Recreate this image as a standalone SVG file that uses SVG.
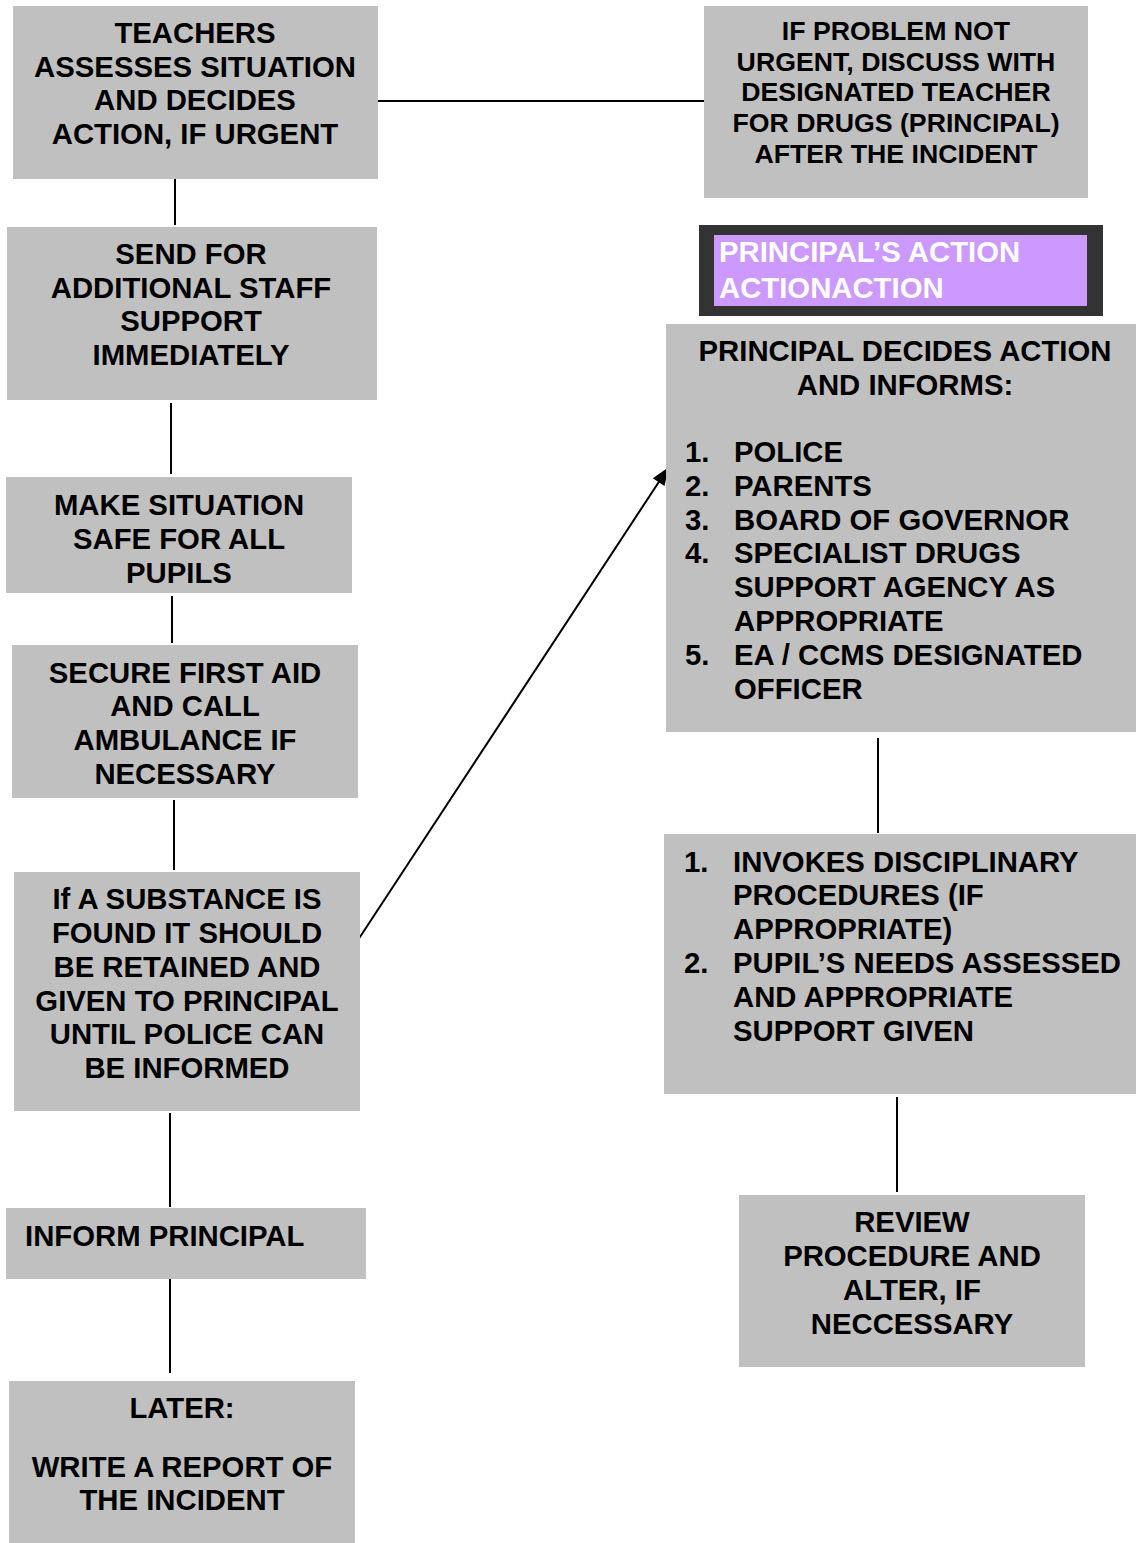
<svg xmlns="http://www.w3.org/2000/svg" width="1136" height="1543" viewBox="0 0 1136 1543">
<style>
.box{fill:#C0C0C0}
.t{font-family:"Liberation Sans",Arial,sans-serif;font-weight:bold;font-size:29.3px;fill:#000}
.s{font-size:26.7px}
.c{text-anchor:middle}
.w{fill:#FFFFFF}
.ln{stroke:#000;stroke-width:2;fill:none}
</style>
<defs>
<marker id="ah" markerWidth="18" markerHeight="14" refX="17" refY="7" orient="auto" markerUnits="userSpaceOnUse" viewBox="0 0 18 14" overflow="visible">
<path d="M0,0 L18,7 L0,14 z" fill="#000"/>
</marker>
</defs>
<rect width="1136" height="1543" fill="#FFFFFF"/>
<g id="connectors">
<line class="ln" x1="378" y1="101" x2="704" y2="101"/>
<line class="ln" x1="175" y1="179" x2="175" y2="225"/>
<line class="ln" x1="171" y1="403" x2="171" y2="474"/>
<line class="ln" x1="172" y1="596" x2="172" y2="643"/>
<line class="ln" x1="174" y1="800" x2="174" y2="870"/>
<line class="ln" x1="170" y1="1113" x2="170" y2="1207"/>
<line class="ln" x1="170" y1="1279" x2="170" y2="1373"/>
<line class="ln" x1="878" y1="738" x2="878" y2="833"/>
<line class="ln" x1="897" y1="1097" x2="897" y2="1192"/>
<line class="ln" x1="358" y1="940" x2="668" y2="468" stroke-width="2.4" marker-end="url(#ah)"/>
</g>
<g id="n1">
<rect class="box" x="13" y="6" width="365" height="173"/>
<text class="t c" x="195" y="42.5">TEACHERS</text>
<text class="t c" x="195" y="76.5">ASSESSES SITUATION</text>
<text class="t c" x="195" y="109.5">AND DECIDES</text>
<text class="t c" x="195" y="143.5">ACTION, IF URGENT</text>
</g>
<g id="n2">
<rect class="box" x="704" y="6" width="384" height="192"/>
<text class="t s c" x="896" y="40">IF PROBLEM NOT</text>
<text class="t s c" x="896" y="71">URGENT, DISCUSS WITH</text>
<text class="t s c" x="896" y="101">DESIGNATED TEACHER</text>
<text class="t s c" x="896" y="132">FOR DRUGS (PRINCIPAL)</text>
<text class="t s c" x="896" y="163">AFTER THE INCIDENT</text>
</g>
<g id="n3">
<rect class="box" x="7" y="227" width="370" height="173"/>
<text class="t c" x="191" y="263.5">SEND FOR</text>
<text class="t c" x="191" y="297.5">ADDITIONAL STAFF</text>
<text class="t c" x="191" y="330.5">SUPPORT</text>
<text class="t c" x="191" y="364.5">IMMEDIATELY</text>
</g>
<g id="n4">
<rect class="box" x="6" y="477" width="346" height="116"/>
<text class="t c" x="179" y="514.5">MAKE SITUATION</text>
<text class="t c" x="179" y="548.5">SAFE FOR ALL</text>
<text class="t c" x="179" y="582.5">PUPILS</text>
</g>
<g id="n5">
<rect class="box" x="12" y="645" width="346" height="153"/>
<text class="t c" x="185" y="682.5">SECURE FIRST AID</text>
<text class="t c" x="185" y="715.5">AND CALL</text>
<text class="t c" x="185" y="749.5">AMBULANCE IF</text>
<text class="t c" x="185" y="783.5">NECESSARY</text>
</g>
<g id="n6">
<rect class="box" x="14" y="872" width="346" height="239"/>
<text class="t c" x="187" y="908.5">If A SUBSTANCE IS</text>
<text class="t c" x="187" y="942.5">FOUND IT SHOULD</text>
<text class="t c" x="187" y="976.5">BE RETAINED AND</text>
<text class="t c" x="187" y="1010.5">GIVEN TO PRINCIPAL</text>
<text class="t c" x="187" y="1043.5">UNTIL POLICE CAN</text>
<text class="t c" x="187" y="1077.5">BE INFORMED</text>
</g>
<g id="n7">
<rect class="box" x="6" y="1208" width="360" height="71"/>
<text class="t" x="25" y="1245.5">INFORM PRINCIPAL</text>
</g>
<g id="n8">
<rect class="box" x="9" y="1381" width="346" height="162"/>
<text class="t c" x="182" y="1417.5">LATER:</text>
<text class="t c" x="182" y="1476.5">WRITE A REPORT OF</text>
<text class="t c" x="182" y="1509.5">THE INCIDENT</text>
</g>
<g id="n9">
<rect x="699" y="225" width="404" height="91" fill="#333333"/>
<rect x="714" y="235" width="373" height="71" fill="#CC99FF"/>
<text class="t w" x="719" y="261.5">PRINCIPAL’S ACTION</text>
<text class="t w" x="719" y="297.5">ACTIONACTION</text>
</g>
<g id="n10">
<rect class="box" x="666" y="324" width="470" height="408"/>
<text class="t c" x="905" y="360.5">PRINCIPAL DECIDES ACTION</text>
<text class="t c" x="905" y="394.5">AND INFORMS:</text>
<text class="t" x="685" y="461.5">1.</text><text class="t" x="734" y="461.5">POLICE</text>
<text class="t" x="685" y="495.5">2.</text><text class="t" x="734" y="495.5">PARENTS</text>
<text class="t" x="685" y="529.5">3.</text><text class="t" x="734" y="529.5">BOARD OF GOVERNOR</text>
<text class="t" x="685" y="562.5">4.</text><text class="t" x="734" y="562.5">SPECIALIST DRUGS</text>
<text class="t" x="734" y="596.5">SUPPORT AGENCY AS</text>
<text class="t" x="734" y="630.5">APPROPRIATE</text>
<text class="t" x="685" y="664.5">5.</text><text class="t" x="734" y="664.5">EA / CCMS DESIGNATED</text>
<text class="t" x="734" y="698.5">OFFICER</text>
</g>
<g id="n11">
<rect class="box" x="664" y="834" width="472" height="260"/>
<text class="t" x="684" y="871.5">1.</text><text class="t" x="733" y="871.5">INVOKES DISCIPLINARY</text>
<text class="t" x="733" y="904.5">PROCEDURES (IF</text>
<text class="t" x="733" y="938.5">APPROPRIATE)</text>
<text class="t" x="684" y="972.5">2.</text><text class="t" x="733" y="972.5">PUPIL’S NEEDS ASSESSED</text>
<text class="t" x="733" y="1006.5">AND APPROPRIATE</text>
<text class="t" x="733" y="1040.5">SUPPORT GIVEN</text>
</g>
<g id="n12">
<rect class="box" x="739" y="1195" width="346" height="172"/>
<text class="t c" x="912" y="1231.5">REVIEW</text>
<text class="t c" x="912" y="1265.5">PROCEDURE AND</text>
<text class="t c" x="912" y="1299.5">ALTER, IF</text>
<text class="t c" x="912" y="1333.5">NECCESSARY</text>
</g>
</svg>
